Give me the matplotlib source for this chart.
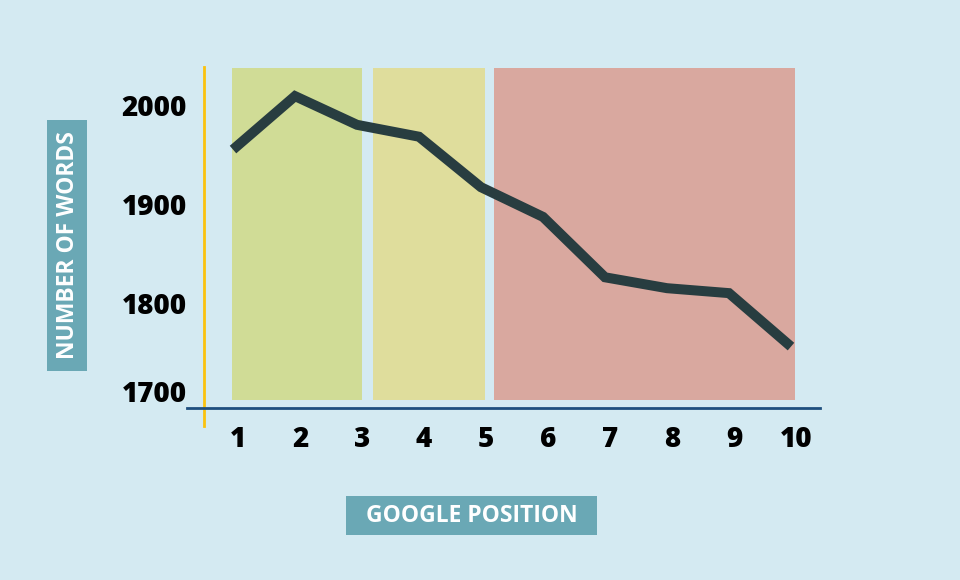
import matplotlib
matplotlib.use('Agg')
import matplotlib.pyplot as plt
from matplotlib.patches import Rectangle
from matplotlib.transforms import ScaledTranslation

# Data
positions = [1, 2, 3, 4, 5, 6, 7, 8, 9, 10]
word_counts = [1955, 2009, 1980, 1968, 1917, 1887, 1826, 1815, 1810, 1756]
y_ticks = [1700, 1800, 1900, 2000]

# Shaded zones (start, end) in position units and their colours
zone_starts = [0.98, 3.26, 5.21]
zone_ends = [3.08, 5.06, 10.06]
zone_colors = ['#d0dc96', '#dfdd9c', '#d9a89f']
ZONE_BOTTOM = 1702
ZONE_TOP = 2037

BG = '#d4eaf2'
LINE_COLOR = '#283d40'
LABEL_BOX = '#6aa8b5'

plt.rcParams['font.family'] = ['Open Sans', 'DejaVu Sans']

fig = plt.figure(figsize=(9.6, 5.8), dpi=100, facecolor=BG)
ax = fig.add_axes([187 / 960, 1 - 426 / 580, 633 / 960, 359 / 580])
ax.set_facecolor('none')

for x0, x1, c in zip(zone_starts, zone_ends, zone_colors):
    ax.add_patch(Rectangle((x0, ZONE_BOTTOM), x1 - x0, ZONE_TOP - ZONE_BOTTOM,
                           facecolor=c, edgecolor='none', zorder=1))

ax.plot(positions, word_counts, color=LINE_COLOR, linewidth=7.2,
        solid_joinstyle='miter', solid_capstyle='butt', zorder=3)

ax.set_xlim(0.258, 10.468)
ax.set_ylim(1675.8, 2038.4)

for s in ['top', 'right']:
    ax.spines[s].set_visible(False)
ax.spines['left'].set_position(('data', 0.53))
ax.spines['left'].set_color('#fbc20f')
ax.spines['left'].set_linewidth(2)
ax.spines['bottom'].set_position(('data', 1694))
ax.spines['bottom'].set_color('#1f4e7e')
ax.spines['bottom'].set_linewidth(2)
ax.spines['left'].set_zorder(4)
ax.spines['bottom'].set_zorder(4)

ax.set_xticks(positions)
ax.set_yticks(y_ticks)
ax.tick_params(axis='both', length=0, labelsize=20, labelcolor='black')
ax.tick_params(axis='x', pad=12)
ax.tick_params(axis='y', pad=12)
for lab in ax.get_xticklabels():
    lab.set_fontweight(800)
    lab.set_transform(lab.get_transform() + ScaledTranslation(5 / 100, 0, fig.dpi_scale_trans))
for lab in ax.get_yticklabels():
    lab.set_fontweight(800)
# the bottom label sits a little above its gridline in the original
ax.get_yticklabels()[0].set_transform(
    ax.get_yticklabels()[0].get_transform() + ScaledTranslation(0, 11 / 100, fig.dpi_scale_trans))

# axis title boxes
fig.patches.append(Rectangle((346 / 960, 1 - 535 / 580), 251 / 960, 39 / 580,
                             transform=fig.transFigure, facecolor=LABEL_BOX, edgecolor='none'))
fig.text(472 / 960, 1 - 516 / 580, 'GOOGLE POSITION', color='white', fontsize=16.5,
         fontweight='bold', ha='center', va='center')

fig.patches.append(Rectangle((47 / 960, 1 - 371 / 580), 40 / 960, 251 / 580,
                             transform=fig.transFigure, facecolor=LABEL_BOX, edgecolor='none'))
fig.text(68 / 960, 1 - 245 / 580, 'NUMBER OF WORDS', color='white', fontsize=16.5,
         fontweight='bold', ha='center', va='center', rotation=90)

fig.savefig('out.png', dpi=100, facecolor=BG)
